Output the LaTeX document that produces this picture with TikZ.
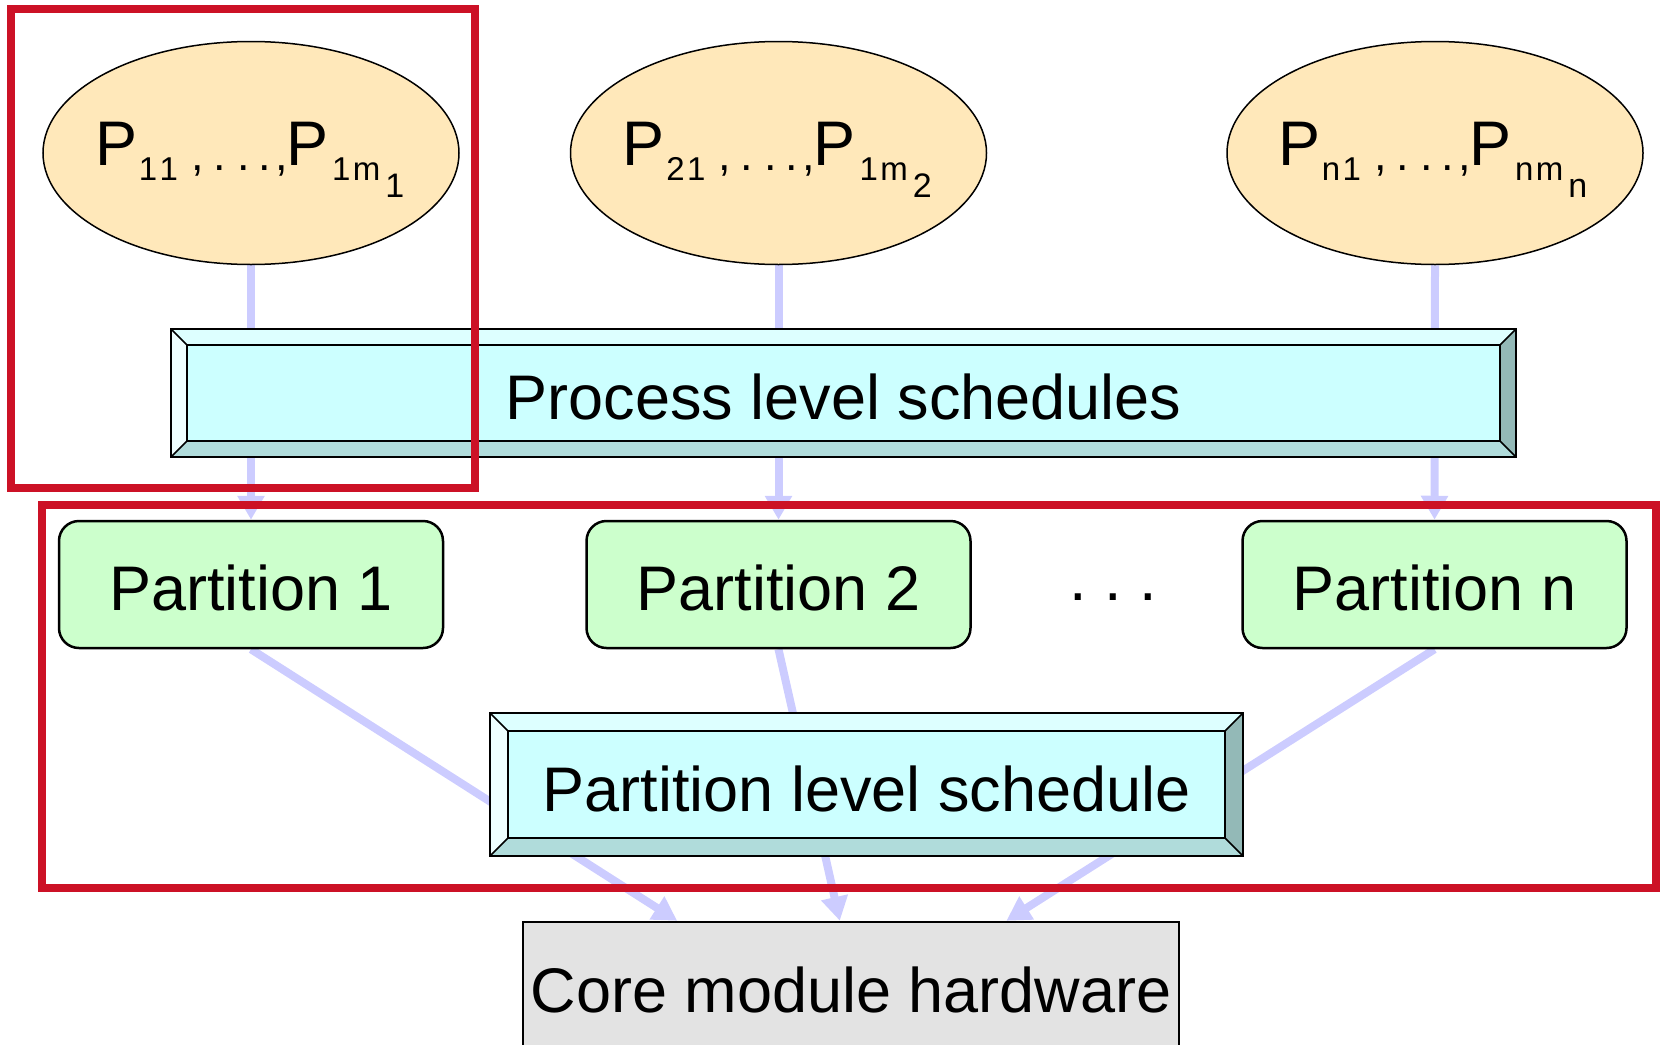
\documentclass[tikz,border=0pt]{standalone}
\usepackage{fontspec}
\setmainfont{Liberation Sans}
\usetikzlibrary{arrows.meta,calc,shapes.geometric}
\pgfdeclarelayer{bg}
\pgfsetlayers{bg,main}

\definecolor{lav}{HTML}{CCCCFF}
\definecolor{ellfill}{HTML}{FFE8BA}
\definecolor{face}{HTML}{CCFFFF}
\definecolor{bvtop}{HTML}{DDFFFF}
\definecolor{bvleft}{HTML}{EEFFFF}
\definecolor{bvbottom}{HTML}{B0DCDB}
\definecolor{bvright}{HTML}{93B9B7}
\definecolor{partfill}{HTML}{CCFFCC}
\definecolor{hwfill}{HTML}{E3E3E3}
\definecolor{redline}{HTML}{CC1126}

\newcommand\bigfont{\fontsize{63}{70}\selectfont}
\newcommand\subfont{\fontsize{33}{36}\selectfont}
\newcommand\subsubfont{\fontsize{34}{36}\selectfont}
\newcommand\midfont{\fontsize{45}{50}\selectfont}

% process set label: P_{#1#2} ,...,P_{#3#4_{#5}}
\newcommand\procset[5]{\hbox{\bigfont P\kern1.6pt\raisebox{-15pt}{\subfont #1\kern2.5pt#2}\kern13pt%
  \raisebox{-5pt}{\midfont ,\kern9.5pt.\kern11.5pt.\kern8.5pt.\kern4.5pt,}\kern-1.5pt%
  P\kern4pt\raisebox{-15pt}{\subfont #3\kern2.5pt#4\kern5pt\raisebox{-17pt}{\subsubfont #5}}}}

% bevelled frame drawn around a rectangular node
\newcommand\bevel[2]{%
  \fill[bvtop] (#1.north west) -- (#1.north east) -- ([shift={(-#2,#2)}]#1.north east) -- ([shift={(#2,#2)}]#1.north west) -- cycle;
  \fill[bvleft] (#1.north west) -- ([shift={(#2,#2)}]#1.north west) -- ([shift={(#2,-#2)}]#1.south west) -- (#1.south west) -- cycle;
  \fill[bvbottom] (#1.south west) -- ([shift={(#2,-#2)}]#1.south west) -- ([shift={(-#2,-#2)}]#1.south east) -- (#1.south east) -- cycle;
  \fill[bvright] (#1.north east) -- (#1.south east) -- ([shift={(-#2,-#2)}]#1.south east) -- ([shift={(-#2,#2)}]#1.north east) -- cycle;
  \draw[line width=2.5pt] ([shift={(#2,#2)}]#1.north west) rectangle ([shift={(-#2,-#2)}]#1.south east);
  \draw[line width=1.5pt] (#1.north west) -- ++(#2,#2) (#1.north east) -- ++(-#2,#2)
    (#1.south west) -- ++(#2,-#2) (#1.south east) -- ++(-#2,-#2);
  \draw[line width=2.5pt] (#1.north west) rectangle (#1.south east);
}

\begin{document}
\begin{tikzpicture}[x=1pt,y=-1pt,
  procell/.style={ellipse, draw=black, line width=1.5pt, fill=ellfill,
    minimum width=416pt, minimum height=223pt, inner sep=0pt},
  setlabel/.style={anchor=base west, inner sep=0pt},
  partbox/.style={rectangle, rounded corners=20pt, draw=black, line width=2.5pt,
    fill=partfill, minimum width=384pt, minimum height=127pt, font=\bigfont,
    text height=51pt, text depth=0pt, inner sep=0pt},
  bevbox/.style={rectangle, fill=face, font=\bigfont, inner sep=0pt, outer sep=0pt,
    text depth=0pt},
  hwbox/.style={rectangle, draw=black, line width=2.5pt, fill=hwfill,
    font=\bigfont, inner sep=0pt},
  wire/.style={draw=lav, line width=8pt},
  arrowtip/.style={-{Triangle[width=26pt,length=24pt]}},
  redframe/.style={draw=redline, line width=8pt},
]
\useasboundingbox (0,0) rectangle (1661,1044);

% process sets
\node[procell] (e1) at (251,153) {};
\node[procell] (e2) at (778.5,153) {};
\node[procell] (e3) at (1435,153) {};
\node[setlabel] (l1) at ($(e1.center)+(-156,12)$) {\procset{1}{1}{1}{m}{1}};
\node[setlabel] (l2) at ($(e2.center)+(-156,12)$) {\procset{2}{1}{1}{m}{2}};
\node[setlabel] (l3) at ($(e3.center)+(-157,12)$) {\procset{n}{1}{n}{m}{n}};

% process level schedules
\node[bevbox, minimum width=1345pt, minimum height=128pt, text height=53pt] (pls) at (843.5,393) {Process level schedules};
\bevel{pls}{16}

% partitions
\node[partbox] (p1) at (251,584.5) {Partition 1};
\node[partbox] (p2) at (778.5,584.5) {Partition 2};
\node[partbox] (pn) at (1434.5,584.5) {Partition n};
\node[font=\bigfont, anchor=base, inner sep=0pt] (dots) at (1113,600) {.\ .\ .};

% partition level schedule
\node[bevbox, minimum width=753pt, minimum height=143pt, text height=54pt] (pts) at (866.5,784.5) {Partition level schedule};
\bevel{pts}{18}

% hardware
\node[hwbox, minimum width=656pt, minimum height=136pt] (hw) at (851,990) {Core module hardware};

% connectors behind the boxes
\begin{pgfonlayer}{bg}
  \draw[wire, arrowtip] (e1.south) -- (p1.north);
  \draw[wire, arrowtip] (e2.south) -- (p2.north);
  \draw[wire, arrowtip] (e3.south) -- (pn.north);
  \draw[wire, arrowtip] (p1.south) -- ($(hw.north west)!0.236!(hw.north east)$);
  \draw[wire, arrowtip] (p2.south) -- ($(hw.north west)!0.483!(hw.north east)$);
  \draw[wire, arrowtip] (pn.south) -- ($(hw.north west)!0.736!(hw.north east)$);
\end{pgfonlayer}

% highlight frames
\draw[redframe] (11,9) rectangle (475,488);
\draw[redframe] (42,505) rectangle (1656,888);
\end{tikzpicture}
\end{document}
